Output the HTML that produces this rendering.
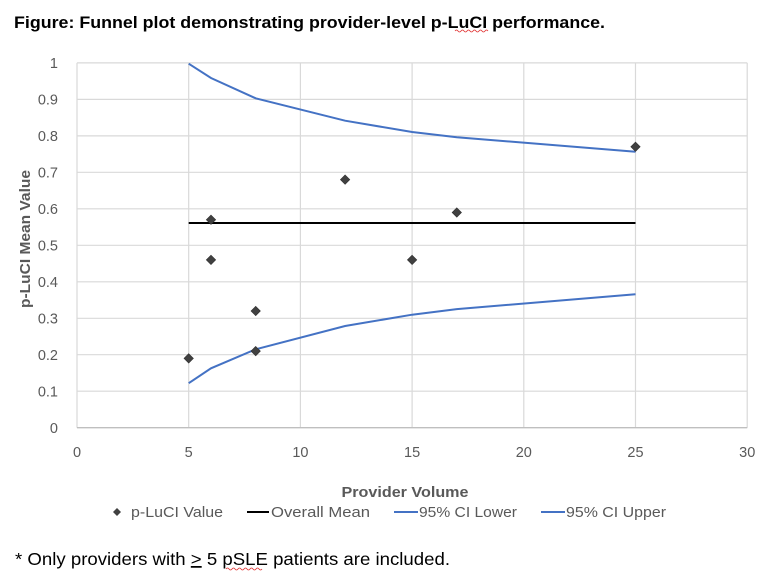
<!DOCTYPE html>
<html>
<head>
<meta charset="utf-8">
<style>
html,body{margin:0;padding:0;background:#fff;}
body{width:778px;height:587px;overflow:hidden;}
svg{display:block;}
text{font-family:"Liberation Sans",sans-serif;}
</style>
</head>
<body>
<svg width="778" height="587" viewBox="0 0 778 587" xmlns="http://www.w3.org/2000/svg">
<rect width="778" height="587" fill="#fff"/>
<!-- Title -->
<text x="14" y="28" font-size="17" font-weight="bold" fill="#000" textLength="591" lengthAdjust="spacingAndGlyphs">Figure:  Funnel plot demonstrating provider-level p-LuCI performance.</text>
<path d="M455 31 q1.5 -2 3 0 t3 0 t3 0 t3 0 t3 0 t3 0 t3 0 t3 0 t3 0 t3 0 t3 0" stroke="#e03030" stroke-width="0.8" fill="none"/>

<!-- gridlines -->
<g stroke="#d9d9d9" stroke-width="1.2" fill="none">
<line x1="77" y1="62.9" x2="747.2" y2="62.9"/>
<line x1="77" y1="99.4" x2="747.2" y2="99.4"/>
<line x1="77" y1="135.9" x2="747.2" y2="135.9"/>
<line x1="77" y1="172.3" x2="747.2" y2="172.3"/>
<line x1="77" y1="208.8" x2="747.2" y2="208.8"/>
<line x1="77" y1="245.3" x2="747.2" y2="245.3"/>
<line x1="77" y1="281.8" x2="747.2" y2="281.8"/>
<line x1="77" y1="318.3" x2="747.2" y2="318.3"/>
<line x1="77" y1="354.7" x2="747.2" y2="354.7"/>
<line x1="77" y1="391.2" x2="747.2" y2="391.2"/>
<line x1="77" y1="62.9" x2="77" y2="427.7"/>
<line x1="188.7" y1="62.9" x2="188.7" y2="427.7"/>
<line x1="300.4" y1="62.9" x2="300.4" y2="427.7"/>
<line x1="412.1" y1="62.9" x2="412.1" y2="427.7"/>
<line x1="523.8" y1="62.9" x2="523.8" y2="427.7"/>
<line x1="635.5" y1="62.9" x2="635.5" y2="427.7"/>
<line x1="747.2" y1="62.9" x2="747.2" y2="427.7"/>
</g>
<line x1="77" y1="427.7" x2="747.2" y2="427.7" stroke="#bfbfbf" stroke-width="1.3"/>

<!-- Y tick labels -->
<g font-size="14.5" fill="#595959" text-anchor="end">
<text x="58" y="68">1</text>
<text x="58" y="104.5">0.9</text>
<text x="58" y="141">0.8</text>
<text x="58" y="177.4">0.7</text>
<text x="58" y="213.9">0.6</text>
<text x="58" y="250.4">0.5</text>
<text x="58" y="286.9">0.4</text>
<text x="58" y="323.4">0.3</text>
<text x="58" y="359.8">0.2</text>
<text x="58" y="396.3">0.1</text>
<text x="58" y="432.8">0</text>
</g>
<!-- X tick labels -->
<g font-size="14.5" fill="#595959" text-anchor="middle">
<text x="77" y="457">0</text>
<text x="188.7" y="457">5</text>
<text x="300.4" y="457">10</text>
<text x="412.1" y="457">15</text>
<text x="523.8" y="457">20</text>
<text x="635.5" y="457">25</text>
<text x="747.2" y="457">30</text>
</g>

<!-- Axis titles -->
<text x="405" y="497" font-size="15" font-weight="bold" fill="#595959" text-anchor="middle" textLength="127" lengthAdjust="spacingAndGlyphs">Provider Volume</text>
<text transform="translate(30,239) rotate(-90)" font-size="15" font-weight="bold" fill="#595959" text-anchor="middle" textLength="138" lengthAdjust="spacingAndGlyphs">p-LuCI Mean Value</text>

<!-- Series -->
<polyline points="188.7,63.7 211,78 255.7,98.3 345.1,120.7 412.1,132 456.8,137.3 635.5,151.7" fill="none" stroke="#4472c4" stroke-width="2"/>
<polyline points="188.7,383.2 211,368.3 255.7,349.3 345.1,326 412.1,314.7 456.8,309.1 635.5,294.3" fill="none" stroke="#4472c4" stroke-width="2"/>
<line x1="188.7" y1="223" x2="635.5" y2="223" stroke="#000" stroke-width="2"/>

<g fill="#404040" stroke="#303030" stroke-width="0.6">
<polygon points="188.7,353.7 193.4,358.4 188.7,363.1 184,358.4"/>
<polygon points="211,215.1 215.7,219.8 211,224.5 206.3,219.8"/>
<polygon points="211,255.2 215.7,259.9 211,264.6 206.3,259.9"/>
<polygon points="255.7,306.3 260.4,311 255.7,315.7 251,311"/>
<polygon points="255.7,346.4 260.4,351.1 255.7,355.8 251,351.1"/>
<polygon points="345.1,174.9 349.8,179.6 345.1,184.3 340.4,179.6"/>
<polygon points="412.1,255.2 416.8,259.9 412.1,264.6 407.4,259.9"/>
<polygon points="456.8,207.8 461.5,212.5 456.8,217.2 452.1,212.5"/>
<polygon points="635.5,142.1 640.2,146.8 635.5,151.5 630.8,146.8"/>
</g>

<!-- Legend -->
<polygon points="117,508 121,512 117,516 113,512" fill="#404040"/>
<text x="131" y="517" font-size="14.5" fill="#595959" textLength="92" lengthAdjust="spacingAndGlyphs">p-LuCI Value</text>
<line x1="247" y1="512" x2="269" y2="512" stroke="#000" stroke-width="2"/>
<text x="271" y="517" font-size="14.5" fill="#595959" textLength="99" lengthAdjust="spacingAndGlyphs">Overall Mean</text>
<line x1="394" y1="512" x2="418" y2="512" stroke="#4472c4" stroke-width="2"/>
<text x="419" y="517" font-size="14.5" fill="#595959" textLength="98" lengthAdjust="spacingAndGlyphs">95% CI Lower</text>
<line x1="541" y1="512" x2="565" y2="512" stroke="#4472c4" stroke-width="2"/>
<text x="566" y="517" font-size="14.5" fill="#595959" textLength="100" lengthAdjust="spacingAndGlyphs">95% CI Upper</text>

<!-- Footnote -->
<text x="15" y="565" font-size="17.5" fill="#000" textLength="435" lengthAdjust="spacingAndGlyphs">* Only providers with <tspan text-decoration="underline">&gt;</tspan> 5 pSLE patients are included.</text>
<path d="M226 569 q1.5 -2 3 0 t3 0 t3 0 t3 0 t3 0 t3 0 t3 0 t3 0 t3 0 t3 0 t3 0 t3 0" stroke="#e03030" stroke-width="0.8" fill="none"/>
</svg>
</body>
</html>
